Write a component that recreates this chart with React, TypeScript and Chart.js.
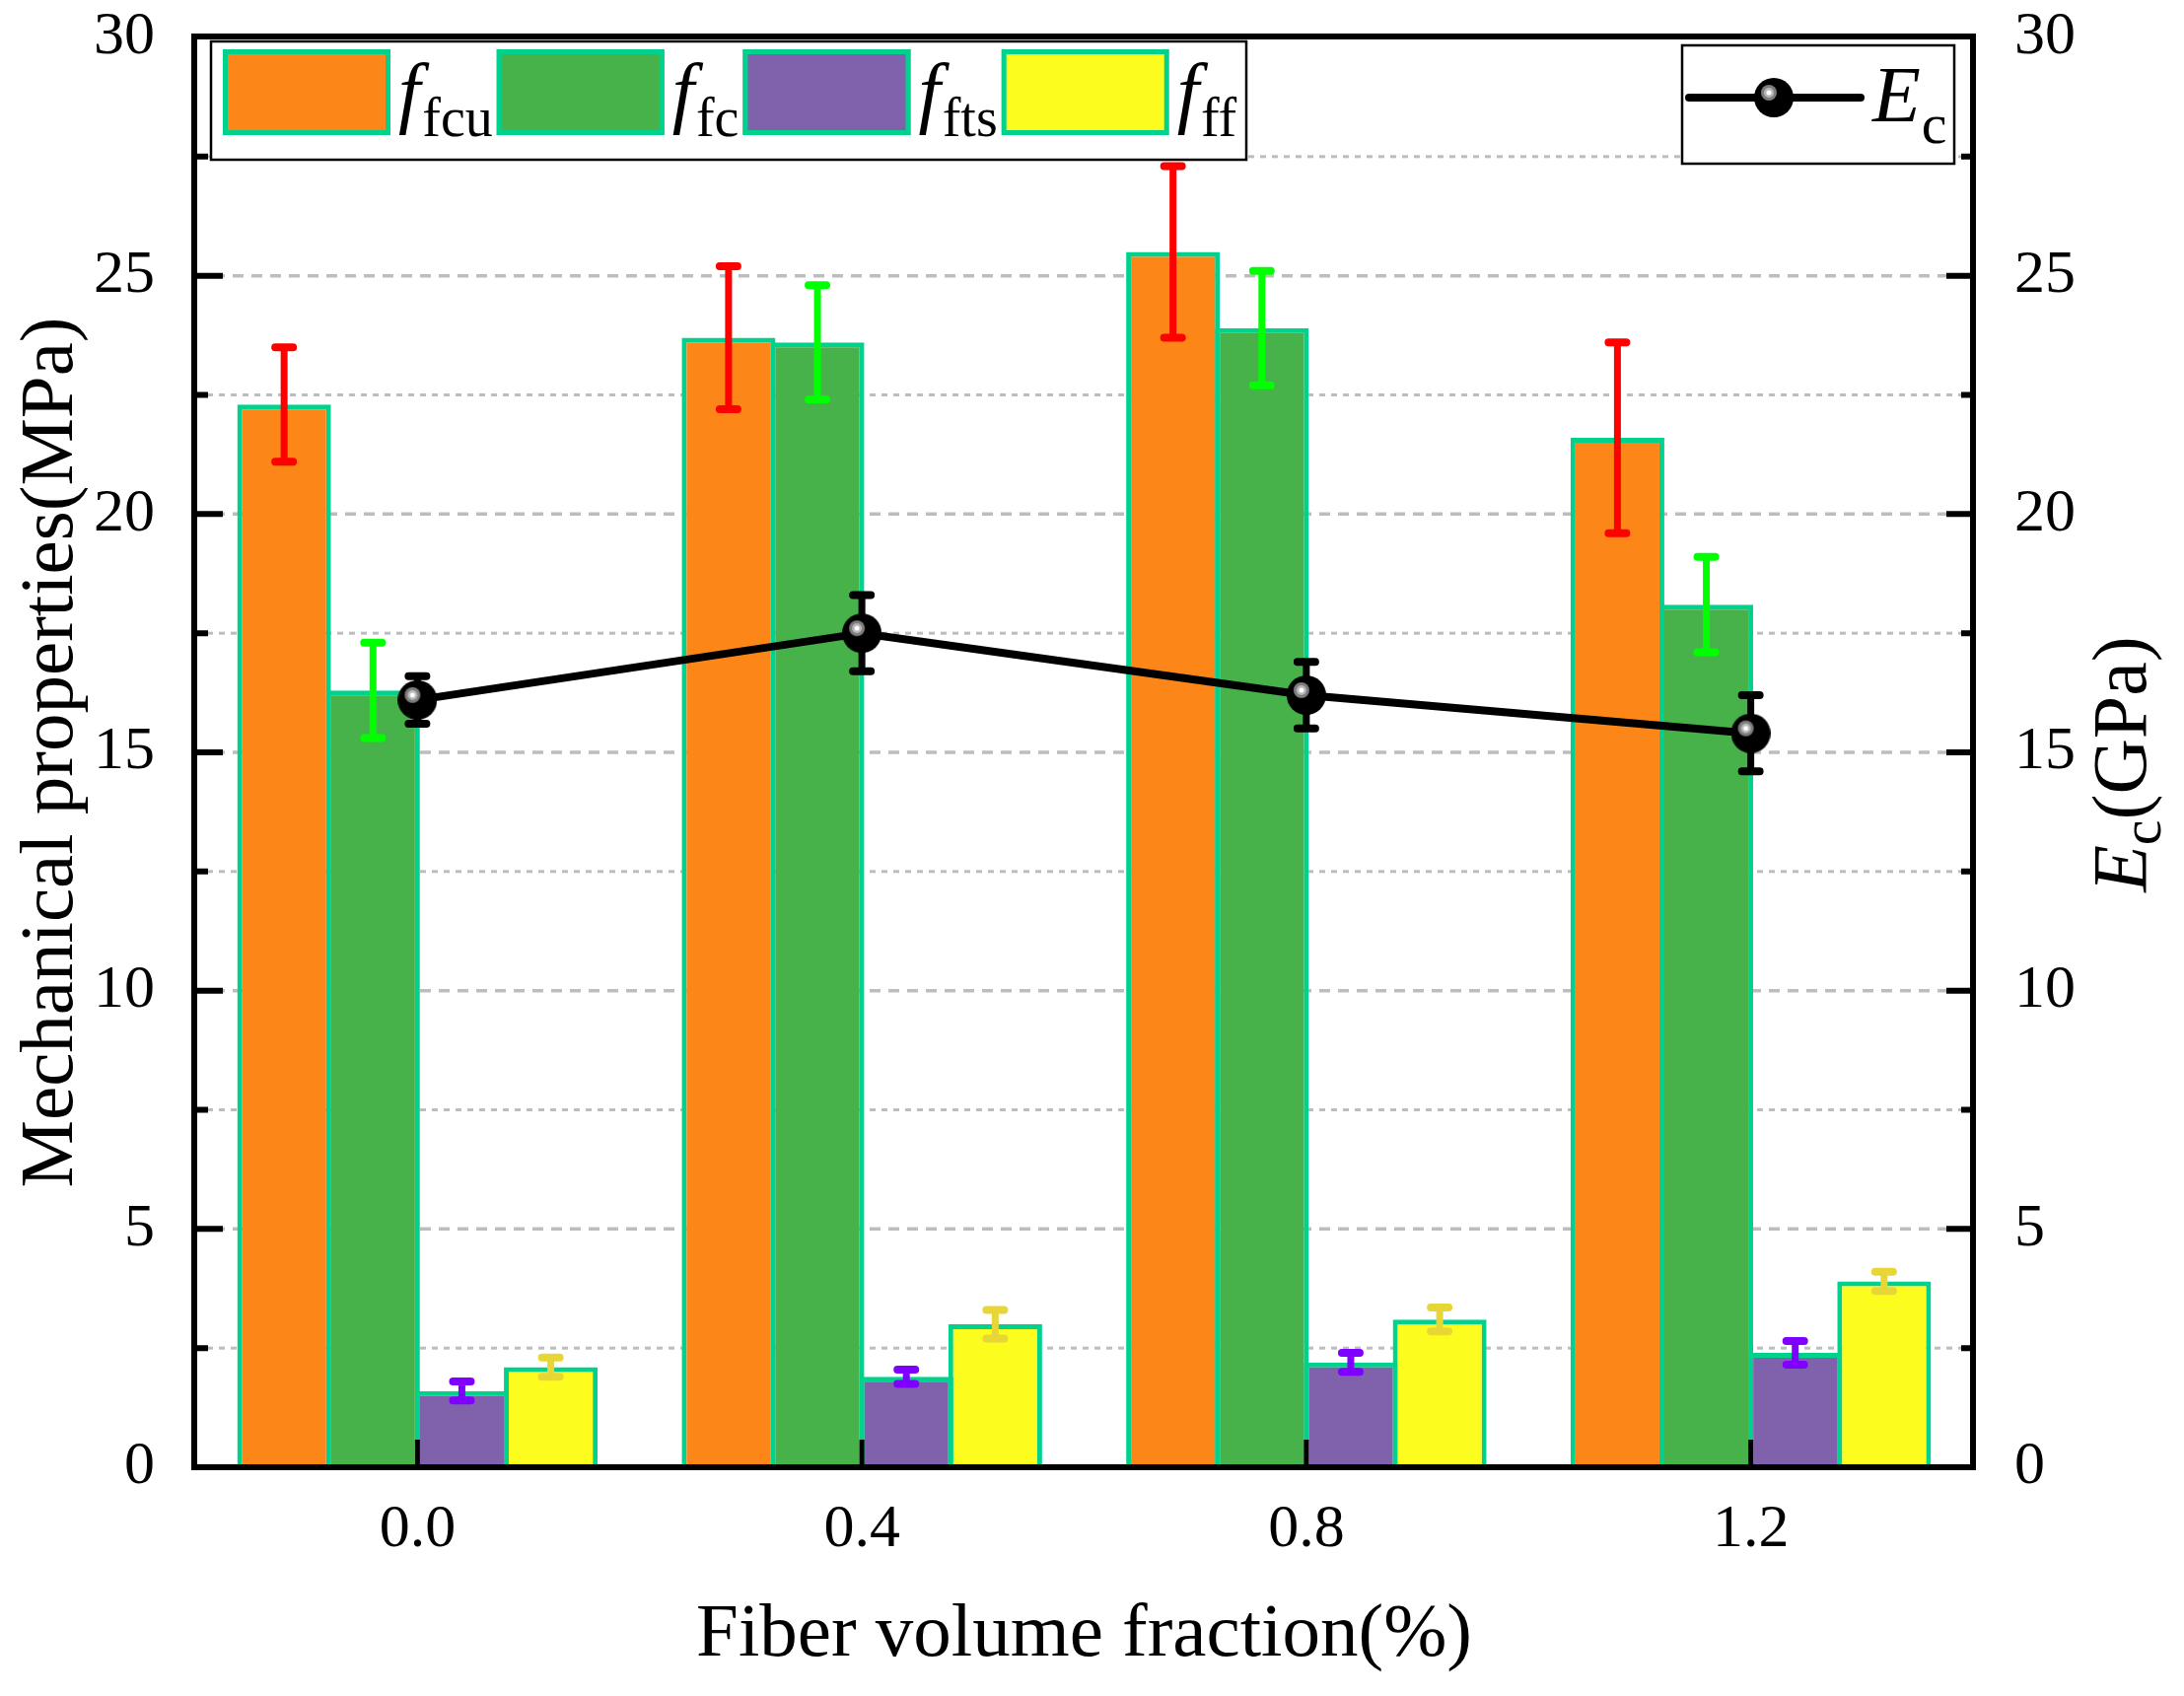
import React, { useEffect, useRef } from 'react';
import { Chart, registerables } from 'chart.js';

Chart.register(...registerables);

// fiber volume fraction (%)
const categories = ['0.0', '0.4', '0.8', '1.2'];

// mechanical properties (MPa) and their error half-widths
const fcu = [22.3, 23.7, 25.5, 21.6];
const fcuErr = [1.2, 1.5, 1.8, 2.0];
const fc = [16.3, 23.6, 23.9, 18.1];
const fcErr = [1.0, 1.2, 1.2, 1.0];
const fts = [1.6, 1.9, 2.2, 2.4];
const ftsErr = [0.2, 0.15, 0.2, 0.25];
const ff = [2.1, 3.0, 3.1, 3.9];
const ffErr = [0.2, 0.3, 0.25, 0.2];

// elastic modulus (GPa)
const ec = [16.1, 17.5, 16.2, 15.4];
const ecErr = [0.5, 0.8, 0.7, 0.8];

// labelled ticks on both value axes; minor ticks sit halfway between them
const yMajorTicks = [0, 5, 10, 15, 20, 25, 30];
const yMinorTicks = yMajorTicks.slice(1).map((v, i) => (v + yMajorTicks[i]) / 2);

const FONT = '"Liberation Serif", "Times New Roman", serif';
const EDGE = '#00D28E';

const barSeries = [
  { sub: 'fcu', values: fcu, errors: fcuErr, fill: '#FC8617', errColor: '#FF0000' },
  { sub: 'fc', values: fc, errors: fcErr, fill: '#47B24A', errColor: '#00FF00' },
  { sub: 'fts', values: fts, errors: ftsErr, fill: '#8061AB', errColor: '#8000FF' },
  { sub: 'ff', values: ff, errors: ffErr, fill: '#FDFC1F', errColor: '#E8D637' },
];

// black sphere marker with a grey highlight
function makeBall(r: number) {
  const c = document.createElement('canvas');
  c.width = r * 2;
  c.height = r * 2;
  const g = c.getContext('2d')!;
  g.fillStyle = '#000';
  g.beginPath();
  g.arc(r, r, r, 0, Math.PI * 2);
  g.fill();
  g.fillStyle = '#7d7d7d';
  g.beginPath();
  g.arc(r - 5, r - 5, 8, 0, Math.PI * 2);
  g.fill();
  g.fillStyle = '#b8b8b8';
  g.beginPath();
  g.arc(r - 5, r - 5, 5, 0, Math.PI * 2);
  g.fill();
  g.fillStyle = '#fff';
  g.beginPath();
  g.arc(r - 5, r - 5, 2.5, 0, Math.PI * 2);
  g.fill();
  return c;
}

function errBar(ctx: CanvasRenderingContext2D, x: number, yTop: number, yBot: number, color: string) {
  ctx.strokeStyle = color;
  ctx.lineWidth = 7;
  ctx.lineCap = 'butt';
  ctx.beginPath();
  ctx.moveTo(x, yTop);
  ctx.lineTo(x, yBot);
  ctx.stroke();
  ctx.lineWidth = 8;
  ctx.lineCap = 'round';
  ctx.beginPath();
  ctx.moveTo(x - 9, yTop);
  ctx.lineTo(x + 9, yTop);
  ctx.moveTo(x - 9, yBot);
  ctx.lineTo(x + 9, yBot);
  ctx.stroke();
}

const App: React.FC = () => {
  const canvasRef = useRef<HTMLCanvasElement>(null);
  const chartRef = useRef<Chart | null>(null);

  useEffect(() => {
    if (!canvasRef.current) return;
    if (chartRef.current) chartRef.current.destroy();

    const ball = makeBall(20);

    const gridValues = () => [
      ...yMajorTicks.map((v) => ({ v, major: true })),
      ...yMinorTicks.map((v) => ({ v, major: false })),
    ];

    const decor = {
      id: 'decor',
      // dashed grid behind the bars
      beforeDatasetsDraw(chart: any) {
        const { ctx, chartArea: a, scales } = chart;
        const y = scales.y;
        ctx.save();
        ctx.strokeStyle = '#BDBDBD';
        gridValues().forEach(({ v, major }) => {
          if (v <= y.min || v >= y.max) return;
          const py = y.getPixelForValue(v);
          ctx.lineWidth = major ? 3.5 : 3;
          ctx.setLineDash(major ? [11, 8] : [6, 6]);
          ctx.beginPath();
          ctx.moveTo(a.left, py);
          ctx.lineTo(a.right, py);
          ctx.stroke();
        });
        ctx.restore();
      },
      // error bars go on top of the bars, under the Ec line
      beforeDatasetDraw(chart: any, args: any) {
        if (chart.data.datasets[args.index].type !== 'line') return;
        const ctx = chart.ctx;
        ctx.save();
        chart.data.datasets.forEach((ds: any, i: number) => {
          const meta = chart.getDatasetMeta(i);
          const ys = chart.scales[meta.yAxisID];
          meta.data.forEach((el: any, j: number) => {
            const v = ds.data[j];
            const e = ds.errors[j];
            errBar(ctx, el.x, ys.getPixelForValue(v + e), ys.getPixelForValue(v - e), ds.errColor);
          });
        });
        ctx.restore();
      },
      // frame and inward ticks
      afterDatasetsDraw(chart: any) {
        const { ctx, chartArea: a, scales } = chart;
        const y = scales.y;
        const x = scales.x;
        ctx.save();
        ctx.setLineDash([]);
        ctx.strokeStyle = '#000';
        ctx.lineCap = 'butt';
        ctx.lineWidth = 6;
        gridValues().forEach(({ v, major }) => {
          if (v <= y.min || v >= y.max) return;
          const py = y.getPixelForValue(v);
          ctx.beginPath();
          ctx.moveTo(a.left, py);
          ctx.lineTo(a.left + (major ? 28 : 13), py);
          ctx.moveTo(a.right, py);
          ctx.lineTo(a.right - (major ? 27 : 12), py);
          ctx.stroke();
        });
        ctx.lineWidth = 5;
        categories.forEach((_, i) => {
          const px = x.getPixelForTick(i);
          ctx.beginPath();
          ctx.moveTo(px, a.bottom);
          ctx.lineTo(px, a.bottom - 28);
          ctx.stroke();
        });
        ctx.lineCap = 'square';
        ctx.lineWidth = 6;
        ctx.beginPath();
        ctx.moveTo(a.left - 1, a.top - 1);
        ctx.lineTo(a.right, a.top - 1);
        ctx.lineTo(a.right, a.bottom);
        ctx.lineTo(a.left - 1, a.bottom);
        ctx.closePath();
        ctx.stroke();
        ctx.restore();
      },
      // legends and the right axis title
      afterDraw(chart: any) {
        const { ctx, chartArea: a } = chart;
        ctx.save();
        ctx.setLineDash([]);

        const bx = a.left + 16;
        const by = a.top + 4;
        ctx.fillStyle = '#fff';
        ctx.fillRect(bx, by, 1050, 120);
        ctx.strokeStyle = '#000';
        ctx.lineWidth = 2.5;
        ctx.strokeRect(bx, by, 1050, 120);
        let cx = bx + 12;
        ctx.textBaseline = 'alphabetic';
        ctx.textAlign = 'left';
        barSeries.forEach((s) => {
          ctx.fillStyle = s.fill;
          ctx.fillRect(cx, by + 8, 170, 87);
          ctx.strokeStyle = EDGE;
          ctx.lineWidth = 5;
          ctx.strokeRect(cx + 2.5, by + 10.5, 165, 82);
          let tx = cx + 178;
          ctx.fillStyle = '#000';
          ctx.font = `italic 80px ${FONT}`;
          ctx.fillText('f', tx, by + 78);
          tx += ctx.measureText('f').width + 2;
          ctx.font = `56px ${FONT}`;
          ctx.fillText(s.sub, tx, by + 96);
          cx = tx + ctx.measureText(s.sub).width + 4;
        });

        const ex = a.right - 295;
        const ey = a.top + 8;
        ctx.fillStyle = '#fff';
        ctx.fillRect(ex, ey, 276, 120);
        ctx.strokeStyle = '#000';
        ctx.lineWidth = 2.5;
        ctx.strokeRect(ex, ey, 276, 120);
        ctx.lineWidth = 8;
        ctx.lineCap = 'round';
        ctx.beginPath();
        ctx.moveTo(ex + 7, ey + 53);
        ctx.lineTo(ex + 181, ey + 53);
        ctx.stroke();
        ctx.drawImage(ball, ex + 93 - ball.width / 2, ey + 53 - ball.height / 2);
        ctx.fillStyle = '#000';
        ctx.font = `italic 80px ${FONT}`;
        ctx.fillText('E', ex + 193, ey + 77);
        const ew = ctx.measureText('E').width;
        ctx.font = `58px ${FONT}`;
        ctx.fillText('c', ex + 193 + ew + 1, ey + 99);

        ctx.font = `italic 78px ${FONT}`;
        const wE = ctx.measureText('E').width;
        ctx.font = `58px ${FONT}`;
        const wc = ctx.measureText('c').width;
        ctx.font = `78px ${FONT}`;
        const wr = ctx.measureText('(GPa)').width;
        const total = wE + wc + wr;
        ctx.translate(a.right + 175, (a.top + a.bottom) / 2 + 12);
        ctx.rotate(-Math.PI / 2);
        let rx = -total / 2;
        ctx.font = `italic 78px ${FONT}`;
        ctx.fillText('E', rx, 0);
        rx += wE;
        ctx.font = `58px ${FONT}`;
        ctx.fillText('c', rx, 15);
        rx += wc;
        ctx.font = `78px ${FONT}`;
        ctx.fillText('(GPa)', rx, 0);
        ctx.restore();
      },
    };

    const tickFont = { family: FONT, size: 62 };
    const noPad = (s: any) => {
      s.paddingTop = 0;
      s.paddingBottom = 0;
    };

    chartRef.current = new Chart(canvasRef.current, {
      type: 'bar',
      data: {
        labels: categories,
        datasets: [
          ...barSeries.map((s) => ({
            type: 'bar' as const,
            label: 'f' + s.sub,
            data: s.values,
            errors: s.errors,
            errColor: s.errColor,
            backgroundColor: s.fill,
            borderColor: EDGE,
            borderWidth: 5,
            categoryPercentage: 0.8,
            barPercentage: 1.055,
            yAxisID: 'y',
            order: 1,
          })),
          {
            type: 'line' as const,
            label: 'Ec',
            data: ec,
            errors: ecErr,
            errColor: '#000000',
            borderColor: '#000',
            borderWidth: 8,
            pointStyle: ball,
            pointRadius: 20,
            tension: 0,
            fill: false,
            yAxisID: 'y1',
            order: 0,
          } as any,
        ],
      },
      options: {
        responsive: false,
        animation: false,
        events: [],
        layout: { padding: { top: 38, left: 0, right: 0, bottom: 0 } },
        plugins: { legend: { display: false }, tooltip: { enabled: false } },
        scales: {
          x: {
            type: 'category',
            offset: true,
            grid: { display: false },
            border: { display: false },
            ticks: { color: '#000', font: tickFont, padding: 19 },
            title: {
              display: true,
              text: 'Fiber volume fraction(%)',
              color: '#000',
              font: { family: FONT, size: 77 },
              padding: { top: 0, bottom: 15 },
            },
            afterFit: (s: any) => {
              s.height = 232;
            },
          },
          y: {
            position: 'left',
            min: 0,
            max: 30,
            grid: { display: false },
            border: { display: false },
            ticks: {
              stepSize: 5,
              autoSkip: false,
              color: '#000',
              font: tickFont,
              padding: 33,
            },
            title: {
              display: true,
              text: 'Mechanical properties(MPa)',
              color: '#000',
              font: { family: FONT, size: 77 },
              padding: { top: 7, bottom: 0 },
            },
            afterFit: (s: any) => {
              s.width = 198;
              noPad(s);
            },
          },
          y1: {
            position: 'right',
            min: 0,
            max: 30,
            grid: { display: false },
            border: { display: false },
            ticks: {
              stepSize: 5,
              autoSkip: false,
              color: '#000',
              font: tickFont,
              padding: 34,
            },
            afterFit: (s: any) => {
              s.width = 214;
              noPad(s);
            },
          },
        },
      },
      plugins: [decor],
    } as any);

    return () => {
      if (chartRef.current) {
        chartRef.current.destroy();
        chartRef.current = null;
      }
    };
  }, []);

  return (
    <div style={{ position: 'fixed', left: 0, top: 0, width: 2215, height: 1720, background: '#fff' }}>
      <canvas ref={canvasRef} width={2215} height={1720} style={{ display: 'block' }} />
    </div>
  );
};

export default App;
